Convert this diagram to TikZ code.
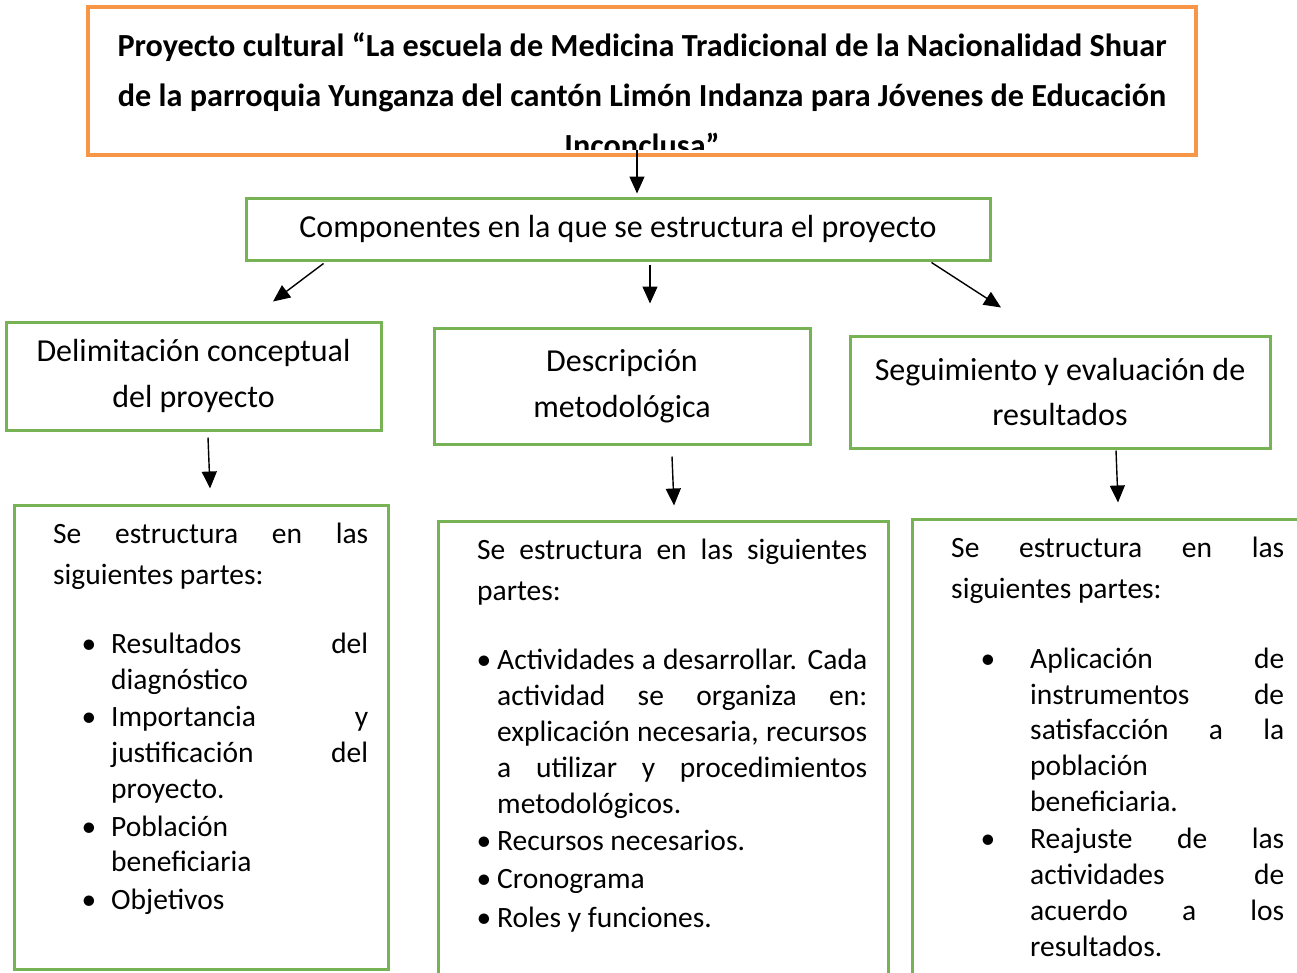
\documentclass[tikz,border=0pt]{standalone}
\usepackage{fontspec}
\setmainfont{Carlito}
\usetikzlibrary{arrows.meta, positioning, calc}
\definecolor{naranja}{RGB}{247,150,70}
\definecolor{verde}{RGB}{119,178,84}
\newcommand{\jline}[2]{\makebox[#1pt][s]{#2}}

\begin{document}
\begin{tikzpicture}[x=1pt, y=-1pt, >={Triangle[length=17pt,width=15pt]}, inner sep=0pt,
  every node/.style = {font=\fontsize{29.5}{36}\selectfont},
  titulo/.style = {draw=naranja, line width=4pt},
  tlinea/.style = {anchor=base, font=\fontsize{32.2}{50}\selectfont\bfseries},
  caja/.style = {draw=verde, line width=3pt, align=center, font=\fontsize{32}{46}\selectfont},
  linea/.style = {anchor=base west},
  punto/.style = {anchor=base},
  flecha/.style = {->, line width=1.4pt}]
  \useasboundingbox (0,0) rectangle (1297,972);

  % titulo
  \begin{scope}
    \clip (90,9) rectangle (1194,149);
    \foreach \yy/\txt [count=\i] in {
      56/{Proyecto cultural “La escuela de Medicina Tradicional de la Nacionalidad Shuar},
      106/{de la parroquia Yunganza del cantón Limón Indanza para Jóvenes de Educación},
      156/{Inconclusa”}}
      \node[tlinea] (t\i) at (642,\yy) {\txt};
  \end{scope}
  \node[titulo, minimum width=1108, minimum height=148] (titulo) at (642,81) {};

  \node[caja, minimum width=744, minimum height=62] (comp) at (618,229) {\raisebox{-3pt}{Componentes en la que se estructura el proyecto}};

  \node[caja, minimum width=375, minimum height=108] (delim) at (193.5,376) {\raisebox{-3pt}{Delimitación conceptual}\\\raisebox{-3pt}{del proyecto}};
  \node[caja, minimum width=376, minimum height=116] (desc) at (622,386) {Descripción\\metodológica};
  \node[caja, minimum width=420, minimum height=112, font=\fontsize{32}{44}\selectfont] (segui) at (1060,392) {Seguimiento y evaluación de\\resultados};

  \node[caja, minimum width=374, minimum height=464] (cajaD) at (201,737) {};
  \node[caja, minimum width=450, minimum height=480] (cajaE) at (663,761) {};
  \node[caja, minimum width=400, minimum height=480] (cajaF) at (1112,759) {};

  % flechas
  \draw[flecha] ($(titulo.south)+(-5,-7)$) -- ($(comp.north)+(19,-3)$);
  \draw[flecha] ($(comp.south west)+(79,2)$) -- ($(delim.north)+(79.5,-19)$);
  \draw[flecha] ($(comp.south)+(32,3)$) -- ($(desc.north)+(28,-23)$);
  \draw[flecha] ($(comp.south east)+(-60,1)$) -- ($(segui.north)+(-59,-27)$);
  \draw[flecha] ($(delim.south)+(14.5,6)$) -- ($(cajaD.north)+(9,-15)$);
  \draw[flecha] ($(desc.south)+(50,11)$) -- ($(cajaE.north)+(11,-14)$);
  \draw[flecha] ($(segui.south)+(56,1)$) -- ($(cajaF.north)+(6,-15)$);

  % Delimitacion
  \foreach \xx/\yy/\txt [count=\i] in {
    53/543/{\jline{315}{Se estructura en las}}, 53/584/{siguientes partes:},
    111/653/{\jline{257}{Resultados del}}, 111/689/{diagnóstico},
    111/726/{\jline{257}{Importancia y}}, 111/762/{\jline{257}{justificación del}},
    111/798/{proyecto.}, 111/836/{Población}, 111/871/{beneficiaria}, 111/909/{Objetivos}}
    \node[linea] (d\i) at (\xx,\yy) {\txt};
  \foreach \yy [count=\i] in {653,726,836,909}
    \node[punto] (pd\i) at (89,\yy) {•};

  % Descripcion
  \foreach \xx/\yy/\txt [count=\i] in {
    477/559/{\jline{390}{Se estructura en las siguientes}}, 477/600/{partes:},
    497/669/{\jline{370}{Actividades a desarrollar. Cada}},
    497/705/{\jline{370}{actividad se organiza en:}},
    497/741/{\jline{370}{explicación necesaria, recursos}},
    497/777/{\jline{370}{a utilizar y procedimientos}},
    497/813/{metodológicos.}, 497/850/{Recursos necesarios.},
    497/888/{Cronograma}, 497/927/{Roles y funciones.}}
    \node[linea] (e\i) at (\xx,\yy) {\txt};
  \foreach \yy [count=\i] in {669,850,888,927}
    \node[punto] (pe\i) at (484,\yy) {•};

  % Seguimiento
  \foreach \xx/\yy/\txt [count=\i] in {
    951/557/{\jline{333}{Se estructura en las}}, 951/598/{siguientes partes:},
    1030/668/{\jline{254}{Aplicación de}}, 1030/704/{\jline{254}{instrumentos de}},
    1030/739/{\jline{254}{satisfacción a la}}, 1030/775/{población},
    1030/811/{beneficiaria.}, 1030/848/{\jline{254}{Reajuste de las}},
    1030/884/{\jline{254}{actividades de}}, 1030/920/{\jline{254}{acuerdo a los}},
    1030/956/{resultados.}}
    \node[linea] (f\i) at (\xx,\yy) {\txt};
  \foreach \yy [count=\i] in {668,848}
    \node[punto] (pf\i) at (988,\yy) {•};
\end{tikzpicture}
\end{document}
